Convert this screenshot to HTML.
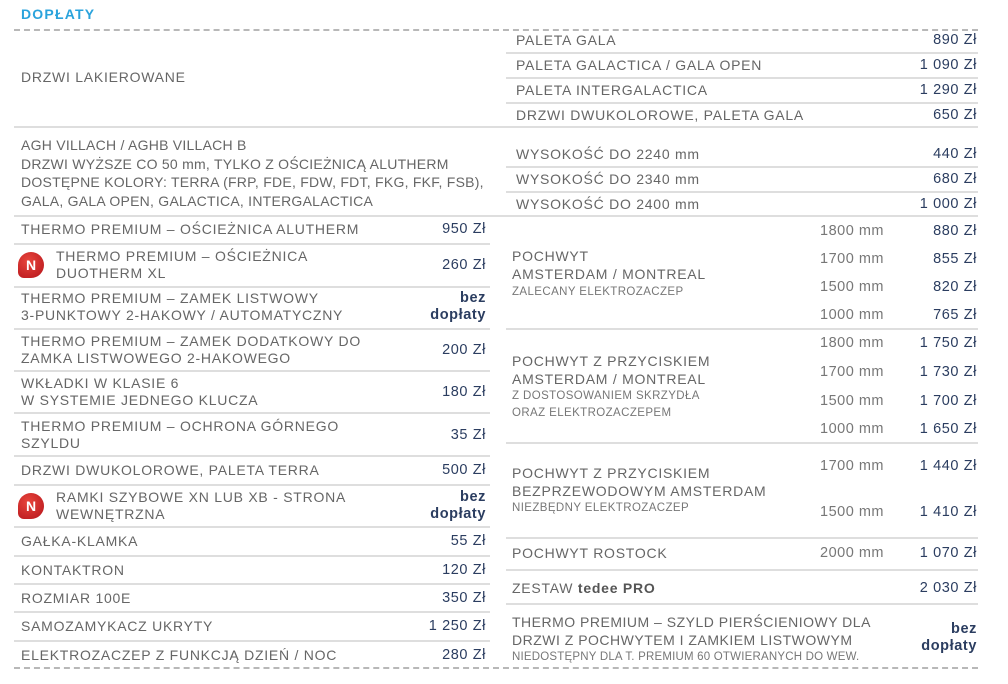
<!DOCTYPE html>
<html><head><meta charset="utf-8"><style>
body{margin:0;width:1008px;height:684px;background:#fff;position:relative;overflow:hidden;font-family:"Liberation Sans",sans-serif;}
div{position:absolute;white-space:nowrap;}
.t{color:#666;font-size:14px;line-height:17px;letter-spacing:0.75px;}
.s{color:#777;font-size:11.5px;line-height:14px;letter-spacing:0.4px;}
.p{color:#2b3d60;font-size:14.5px;line-height:17px;text-align:right;letter-spacing:0.6px;}
.pl{right:522px;}
.pr{right:31px;}
.m{color:#777;font-size:14.5px;line-height:17px;text-align:right;right:124px;letter-spacing:0.5px;}
.b{font-weight:bold;}
.hl{height:2px;background:#dedede;}
.L{left:14px;width:476px;}
.R{left:506px;width:472px;}
.F{left:14px;width:964px;}
.d{left:14px;width:964px;height:0;border-top:2px dashed #b8b8b8;}
.n{width:26px;height:26px;border-radius:50% 50% 50% 6px;background:radial-gradient(circle at 40% 35%,#e8453c,#b5141b);color:#fff;font-weight:bold;font-size:14px;line-height:26px;text-align:center;left:18px;}
</style></head><body>
<div style="left:21px;top:6px;color:#2aa3dc;font-weight:bold;font-size:14px;letter-spacing:1.2px;">DOPŁATY</div>
<div class="d" style="top:29px"></div>

<div class="t" style="left:21px;top:69px">DRZWI LAKIEROWANE</div>
<div class="hl F" style="top:126px"></div>
<div class="t" style="left:21px;top:136px;line-height:18.5px;letter-spacing:0.25px">AGH VILLACH / AGHB VILLACH B<br>DRZWI WYŻSZE CO 50 mm, TYLKO Z OŚCIEŻNICĄ ALUTHERM<br>DOSTĘPNE KOLORY: TERRA (FRP, FDE, FDW, FDT, FKG, FKF, FSB),<br>GALA, GALA OPEN, GALACTICA, INTERGALACTICA</div>
<div class="hl F" style="top:215px"></div>
<div class="t" style="left:21px;top:221px">THERMO PREMIUM – OŚCIEŻNICA ALUTHERM</div><div class="p pl" style="top:221px">950 Zł</div>
<div class="hl L" style="top:243px"></div>
<div class="n" style="top:252px">N</div>
<div class="t" style="left:56px;top:248px">THERMO PREMIUM – OŚCIEŻNICA<br>DUOTHERM XL</div><div class="p pl" style="top:257px">260 Zł</div>
<div class="hl L" style="top:286px"></div>
<div class="t" style="left:21px;top:290px">THERMO PREMIUM – ZAMEK LISTWOWY<br>3-PUNKTOWY 2-HAKOWY / AUTOMATYCZNY</div><div class="p pl b" style="top:290px">bez<br>dopłaty</div>
<div class="hl L" style="top:328px"></div>
<div class="t" style="left:21px;top:333px">THERMO PREMIUM – ZAMEK DODATKOWY DO<br>ZAMKA LISTWOWEGO 2-HAKOWEGO</div><div class="p pl" style="top:342px">200 Zł</div>
<div class="hl L" style="top:370px"></div>
<div class="t" style="left:21px;top:375px">WKŁADKI W KLASIE 6<br>W SYSTEMIE JEDNEGO KLUCZA</div><div class="p pl" style="top:384px">180 Zł</div>
<div class="hl L" style="top:412px"></div>
<div class="t" style="left:21px;top:418px">THERMO PREMIUM – OCHRONA GÓRNEGO<br>SZYLDU</div><div class="p pl" style="top:427px">35 Zł</div>
<div class="hl L" style="top:455px"></div>
<div class="t" style="left:21px;top:462px">DRZWI DWUKOLOROWE, PALETA TERRA</div><div class="p pl" style="top:462px">500 Zł</div>
<div class="hl L" style="top:484px"></div>
<div class="n" style="top:493px">N</div>
<div class="t" style="left:56px;top:489px">RAMKI SZYBOWE XN LUB XB - STRONA<br>WEWNĘTRZNA</div><div class="p pl b" style="top:489px">bez<br>dopłaty</div>
<div class="hl L" style="top:526px"></div>
<div class="t" style="left:21px;top:533px">GAŁKA-KLAMKA</div><div class="p pl" style="top:533px">55 Zł</div>
<div class="hl L" style="top:555px"></div>
<div class="t" style="left:21px;top:562px">KONTAKTRON</div><div class="p pl" style="top:562px">120 Zł</div>
<div class="hl L" style="top:583px"></div>
<div class="t" style="left:21px;top:590px">ROZMIAR 100E</div><div class="p pl" style="top:590px">350 Zł</div>
<div class="hl L" style="top:611px"></div>
<div class="t" style="left:21px;top:618px">SAMOZAMYKACZ UKRYTY</div><div class="p pl" style="top:618px">1 250 Zł</div>
<div class="hl L" style="top:640px"></div>
<div class="t" style="left:21px;top:647px">ELEKTROZACZEP Z FUNKCJĄ DZIEŃ / NOC</div><div class="p pl" style="top:647px">280 Zł</div>
<div class="d" style="top:667px"></div>

<div class="t" style="left:516px;top:32px">PALETA GALA</div><div class="p pr" style="top:32px">890 Zł</div>
<div class="hl R" style="top:52px"></div>
<div class="t" style="left:516px;top:57px">PALETA GALACTICA / GALA OPEN</div><div class="p pr" style="top:57px">1 090 Zł</div>
<div class="hl R" style="top:77px"></div>
<div class="t" style="left:516px;top:82px">PALETA INTERGALACTICA</div><div class="p pr" style="top:82px">1 290 Zł</div>
<div class="hl R" style="top:102px"></div>
<div class="t" style="left:516px;top:107px">DRZWI DWUKOLOROWE, PALETA GALA</div><div class="p pr" style="top:107px">650 Zł</div>

<div class="t" style="left:516px;top:146px">WYSOKOŚĆ DO 2240 mm</div><div class="p pr" style="top:146px">440 Zł</div>
<div class="hl R" style="top:166px"></div>
<div class="t" style="left:516px;top:171px">WYSOKOŚĆ DO 2340 mm</div><div class="p pr" style="top:171px">680 Zł</div>
<div class="hl R" style="top:191px"></div>
<div class="t" style="left:516px;top:196px">WYSOKOŚĆ DO 2400 mm</div><div class="p pr" style="top:196px">1 000 Zł</div>

<div class="t" style="left:512px;top:247px;line-height:18px">POCHWYT<br>AMSTERDAM / MONTREAL</div>
<div class="s" style="left:512px;top:285px">ZALECANY ELEKTROZACZEP</div>
<div class="m" style="top:223px">1800 mm</div><div class="p pr" style="top:223px">880 Zł</div>
<div class="m" style="top:251px">1700 mm</div><div class="p pr" style="top:251px">855 Zł</div>
<div class="m" style="top:279px">1500 mm</div><div class="p pr" style="top:279px">820 Zł</div>
<div class="m" style="top:307px">1000 mm</div><div class="p pr" style="top:307px">765 Zł</div>
<div class="hl R" style="top:328px"></div>

<div class="t" style="left:512px;top:352px;line-height:18px">POCHWYT Z PRZYCISKIEM<br>AMSTERDAM / MONTREAL</div>
<div class="s" style="left:512px;top:388px;line-height:17px">Z DOSTOSOWANIEM SKRZYDŁA<br>ORAZ ELEKTROZACZEPEM</div>
<div class="m" style="top:335px">1800 mm</div><div class="p pr" style="top:335px">1 750 Zł</div>
<div class="m" style="top:364px">1700 mm</div><div class="p pr" style="top:364px">1 730 Zł</div>
<div class="m" style="top:393px">1500 mm</div><div class="p pr" style="top:393px">1 700 Zł</div>
<div class="m" style="top:421px">1000 mm</div><div class="p pr" style="top:421px">1 650 Zł</div>
<div class="hl R" style="top:442px"></div>

<div class="t" style="left:512px;top:464px;line-height:18px">POCHWYT Z PRZYCISKIEM<br>BEZPRZEWODOWYM AMSTERDAM</div>
<div class="s" style="left:512px;top:501px">NIEZBĘDNY ELEKTROZACZEP</div>
<div class="m" style="top:458px">1700 mm</div><div class="p pr" style="top:458px">1 440 Zł</div>
<div class="m" style="top:504px">1500 mm</div><div class="p pr" style="top:504px">1 410 Zł</div>
<div class="hl R" style="top:537px"></div>

<div class="t" style="left:512px;top:545px">POCHWYT ROSTOCK</div><div class="m" style="top:545px">2000 mm</div><div class="p pr" style="top:545px">1 070 Zł</div>
<div class="hl R" style="top:569px"></div>
<div class="t" style="left:512px;top:580px">ZESTAW <b style="color:#555">tedee PRO</b></div><div class="p pr" style="top:580px">2 030 Zł</div>
<div class="hl R" style="top:603px"></div>
<div class="t" style="left:512px;top:613px;line-height:18px;letter-spacing:0.5px">THERMO PREMIUM – SZYLD PIERŚCIENIOWY DLA<br>DRZWI Z POCHWYTEM I ZAMKIEM LISTWOWYM</div>
<div class="s" style="left:512px;top:650px;letter-spacing:0.2px">NIEDOSTĘPNY DLA T. PREMIUM 60 OTWIERANYCH DO WEW.</div>
<div class="p pr b" style="top:621px">bez<br>dopłaty</div>
</body></html>
